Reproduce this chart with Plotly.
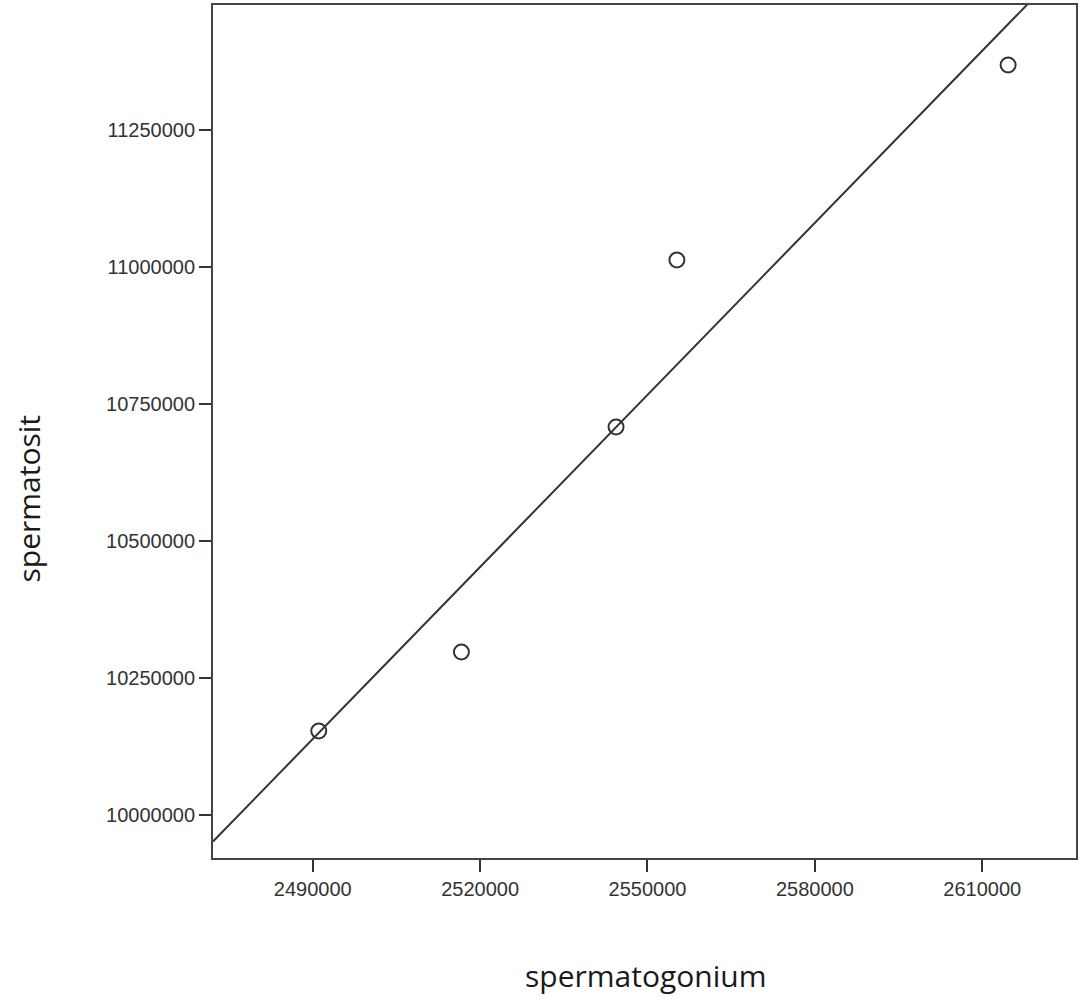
import numpy as np
import plotly.graph_objects as go

# Data
spermatogonium = [2491073, 2516645, 2544363, 2555272, 2614642]
spermatosit = [10153285, 10297445, 10708029, 11012774, 11368613]

x_ticks = [2490000, 2520000, 2550000, 2580000, 2610000]
y_ticks = [10000000, 10250000, 10500000, 10750000, 11000000, 11250000]

x_range = [2472117, 2626810]
y_range = [9921533, 11478102]

# Linear fit line (least squares)
slope, intercept = np.polyfit(spermatogonium, spermatosit, 1)
fit_x = np.array(x_range)
fit_y = slope * fit_x + intercept

fig = go.Figure()
fig.add_trace(go.Scatter(
    x=fit_x, y=fit_y, mode="lines",
    line=dict(color="#333333", width=2), hoverinfo="skip", showlegend=False,
))
fig.add_trace(go.Scatter(
    x=spermatogonium, y=spermatosit, mode="markers",
    marker=dict(symbol="circle-open", size=15, color="#333333", line=dict(width=2)),
    showlegend=False,
))

axis_common = dict(
    showgrid=False, zeroline=False, showline=True, mirror=True,
    linecolor="#444444", linewidth=2, ticks="outside", ticklen=12,
    tickwidth=2, tickcolor="#333333",
    tickfont=dict(family="Liberation Sans, Arial, sans-serif", size=20, color="#333333"),
)

fig.update_xaxes(range=x_range, tickvals=x_ticks,
                 ticktext=[str(v) for v in x_ticks], **axis_common)
fig.update_yaxes(range=y_range, tickvals=y_ticks,
                 ticktext=[str(v) for v in y_ticks], **axis_common)

title_font = dict(family="Open Sans, Noto Sans, sans-serif", size=30, color="#1a1a1a")
fig.update_layout(
    width=1079, height=1005,
    margin=dict(l=213, r=1, t=5, b=147),
    paper_bgcolor="white", plot_bgcolor="white",
    annotations=[
        dict(text="spermatogonium", xref="paper", yref="paper",
             x=0.5017, y=-0.1372, showarrow=False, font=title_font,
             xanchor="center", yanchor="middle"),
        dict(text="spermatosit", xref="paper", yref="paper",
             x=-0.2139, y=0.422, showarrow=False, font=title_font,
             textangle=-90, xanchor="center", yanchor="middle"),
    ],
)

fig.write_html("out.html", config={"displayModeBar": False},
               post_script="document.body.style.margin='0px';")
